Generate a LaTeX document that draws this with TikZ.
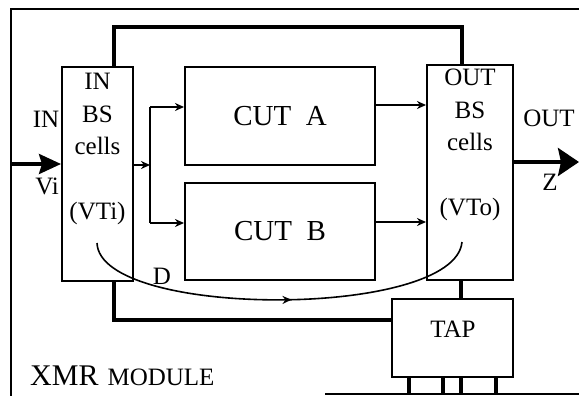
\documentclass[tikz,border=0pt]{standalone}
\usepackage{fontspec}
\setmainfont{Liberation Serif}
\usetikzlibrary{arrows.meta,positioning,decorations.markings}

\begin{document}
\begin{tikzpicture}[
        x=1pt,
        y=-1pt,
        box/.style={
            draw,
            line width=2pt,
            inner sep=0pt
        },
        lbl/.style={
            inner sep=0pt,
            align=center,
            font=\fontsize{25}{32.5}\selectfont
        },
        cutbox/.style={
            box,
            minimum width=190pt,
            minimum height=97pt,
            font=\fontsize{29}{34}\selectfont
        },
        wire/.style={
            line width=2pt
        },
        bus/.style={
            line width=3.4pt
        },
        arrow/.style={
            wire,
            -{Stealth[length=9pt,width=8pt]}
        },
        bigarrow/.style={
            bus,
            -{Stealth[length=22pt,width=20pt,inset=3pt]}
        }
    ]

        \useasboundingbox (0,0) rectangle (579,396);

        \draw[wire] (579,9) -- (11,9) -- (11,396);
        \draw[wire] (325,394) -- (579,394);

        \node[box, minimum width=71pt, minimum height=214pt] (inbs) at (97.5,174) {};
        \node[box, minimum width=86pt, minimum height=215pt] (outbs) at (470,172.5) {};
        \node[cutbox, minimum height=98pt] (cuta) at (280,116) {CUT\enspace A};
        \node[cutbox] (cutb) at (280,231.5) {CUT\enspace B};
        \node[box, minimum width=121pt, minimum height=78pt] (tap) at (452.5,338) {};

        \node[lbl, below=7pt of inbs.north] (inlbl) {IN\\BS\\cells\\[32.5pt](VTi)};
        \node[lbl, below=5pt of outbs.north] (outlbl) {OUT\\BS\\cells\\[32.5pt](VTo)};
        \node[lbl] (taplbl) at (453,329) {TAP};

        \node[lbl] (inname) at (46,119) {IN};
        \node[lbl] (vi) at (47,186) {Vi};
        \node[lbl] (outname) at (549,118) {OUT};
        \node[lbl] (z) at (550,182) {Z};
        \node[lbl] (d) at (162,276) {D};

        \node[anchor=base west, inner sep=0pt, font=\fontsize{30}{34}\selectfont] (title) at (30,385) {XMR\hspace{9pt}{\fontsize{25}{28}\selectfont MODULE}};

        \coordinate (inpt) at (11,164);
        \coordinate (outpt) at (579,162);
        \coordinate (split) at (150,165);
        \coordinate (splita) at (150,107);
        \coordinate (splitb) at (150,223);
        \coordinate (dstart) at (97,243);
        \coordinate (dend) at (462,242);

        \draw[bigarrow] (inpt) -- (inbs.west |- inpt);
        \draw[arrow] (inbs.east |- split) -- (split);
        \draw[wire] (splita) -- (splitb);
        \draw[arrow] (splita) -- (cuta.west |- splita);
        \draw[arrow] (splitb) -- (cutb.west |- splitb);

        \draw[arrow] ([yshift=11pt]cuta.east) coordinate (aout) -- (aout -| outbs.west);
        \draw[arrow] ([yshift=9.5pt]cutb.east) coordinate (bout) -- (bout -| outbs.west);
        \draw[bus, -{Stealth[length=21pt,width=28pt,inset=3pt]}] (outbs.east |- outpt) -- (outpt);

        \draw[bus] ([xshift=16.5pt]inbs.north) |- ([xshift=-8pt,yshift=37pt]outbs.north) -- ([xshift=-8pt]outbs.north);
        \draw[bus] ([xshift=16.5pt]inbs.south) |- ([yshift=18pt]tap.west);
        \draw[bus] ([xshift=-9pt]outbs.south) -- ([xshift=8.5pt]tap.north);
        \foreach \dx in {-43.5,-9.5,8.5,43.5}
            \draw[bus] ([xshift=\dx pt]tap.south) -- ++(0,17);

        \draw[line width=1.6pt, postaction={decorate},
            decoration={markings, mark=at position 0.53 with {\arrow{Stealth[length=9pt,width=8pt]}}}]
            (dstart) .. controls (100,319) and (455,319) .. (dend);

    \end{tikzpicture}
\end{document}
